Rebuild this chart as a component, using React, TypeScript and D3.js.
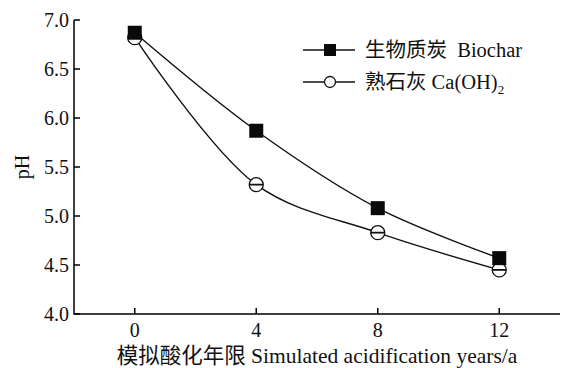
import React from 'react';
import * as d3 from 'd3';

const years = [0, 4, 8, 12];
const biochar = [6.87, 5.87, 5.08, 4.57];
const lime = [6.82, 5.32, 4.83, 4.45];
const xTicks = [0, 4, 8, 12];
const yTicks = [4.0, 4.5, 5.0, 5.5, 6.0, 6.5, 7.0];

const W = 562;
const H = 368;
const serif = '"Liberation Serif", "Times New Roman", "Noto Sans CJK SC", serif';

function App() {
  const left = 74;
  const right = 560;
  const top = 20;
  const bottom = 314;

  const x = d3.scaleLinear([-2, 14], [left, right]);
  const y = d3.scaleLinear([4, 7], [bottom, top]);

  const line = d3
    .line<number>()
    .x((_, i) => x(years[i]))
    .y((d) => y(d))
    .curve(d3.curveCatmullRom.alpha(0.5));

  const sq = 14;
  const r = 7;

  return (
    <svg width={W} height={H} style={{ position: 'absolute', left: 0, top: 0 }}>
      <rect width={W} height={H} fill="#fff" />
      {/* axes */}
      <g stroke="#000" strokeWidth={1.5} fill="none">
        <path d={`M${left},${top}V${bottom}H${right}`} />
        {yTicks.map((t) => (
          <line key={t} x1={left} x2={left + 6} y1={y(t)} y2={y(t)} />
        ))}
        {xTicks.map((t) => (
          <line key={t} x1={x(t)} x2={x(t)} y1={bottom} y2={bottom - 6} />
        ))}
      </g>
      <g fontFamily={serif} fontSize={20} fill="#111">
        {yTicks.map((t) => (
          <text key={t} x={left - 5} y={y(t)} dy="0.35em" textAnchor="end">
            {t.toFixed(1)}
          </text>
        ))}
        {xTicks.map((t) => (
          <text key={t} x={x(t)} y={bottom + 23} textAnchor="middle">
            {t}
          </text>
        ))}
        <text x={317} y={363} textAnchor="middle" fontSize={21.5}>
          模拟酸化年限 Simulated acidification years/a
        </text>
        <text transform={`translate(29,${(top + bottom) / 2}) rotate(-90)`} textAnchor="middle">
          pH
        </text>
      </g>
      {/* lines */}
      <path d={line(lime) ?? ''} fill="none" stroke="#111" strokeWidth={1.4} />
      <path d={line(biochar) ?? ''} fill="none" stroke="#111" strokeWidth={1.4} />
      {/* markers */}
      {lime.map((v, i) => (
        <g key={i}>
          <circle cx={x(years[i])} cy={y(v)} r={r} fill="#fff" stroke="#111" strokeWidth={1.3} />
          <line x1={x(years[i]) - r} x2={x(years[i]) + r} y1={y(v)} y2={y(v)} stroke="#111" strokeWidth={1.8} />
        </g>
      ))}
      {biochar.map((v, i) => (
        <rect key={i} x={x(years[i]) - sq / 2} y={y(v) - sq / 2} width={sq} height={sq} fill="#0a0a0a" />
      ))}
      {/* legend */}
      <g fontFamily={serif} fontSize={20.5} fill="#111">
        <line x1={303} x2={355} y1={50} y2={50} stroke="#111" strokeWidth={1.4} />
        <rect x={324} y={44} width={12} height={12} fill="#0a0a0a" />
        <text x={365} y={50} dy="0.35em" style={{ whiteSpace: 'pre' }}>生物质炭  Biochar</text>
        <line x1={303} x2={355} y1={82} y2={82} stroke="#111" strokeWidth={1.4} />
        <circle cx={330} cy={82} r={5.5} fill="#fff" stroke="#111" strokeWidth={1.3} />
        <text x={365} y={82} dy="0.35em">
          熟石灰 Ca(OH)<tspan fontSize={13} dy="5">2</tspan>
        </text>
      </g>
    </svg>
  );
}

export default App;
